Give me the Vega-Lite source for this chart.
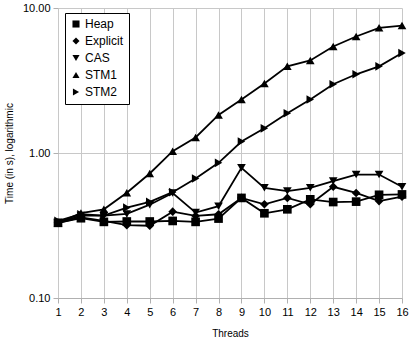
{
  "$schema": "https://vega.github.io/schema/vega-lite/v6.json",
  "width": 344,
  "height": 290,
  "autosize": {"type": "none"},
  "padding": {"left": 58, "top": 8, "right": 7, "bottom": 49},
  "background": "white",
  "config": {
    "font": "Liberation Sans",
    "view": {"stroke": null},
    "axis": {"gridColor": "#c8c8c8", "gridWidth": 1, "domainColor": "#b0b0b0", "tickColor": "#b0b0b0", "labelColor": "#000", "titleColor": "#000", "labelFont": "Liberation Sans", "titleFont": "Liberation Sans"}
  },
  "data": {"values": [
    {"threads": 1, "series": "Heap", "time": 0.33},
    {"threads": 2, "series": "Heap", "time": 0.355},
    {"threads": 3, "series": "Heap", "time": 0.335},
    {"threads": 4, "series": "Heap", "time": 0.337},
    {"threads": 5, "series": "Heap", "time": 0.337},
    {"threads": 6, "series": "Heap", "time": 0.34},
    {"threads": 7, "series": "Heap", "time": 0.335},
    {"threads": 8, "series": "Heap", "time": 0.353},
    {"threads": 9, "series": "Heap", "time": 0.49},
    {"threads": 10, "series": "Heap", "time": 0.384},
    {"threads": 11, "series": "Heap", "time": 0.409},
    {"threads": 12, "series": "Heap", "time": 0.479},
    {"threads": 13, "series": "Heap", "time": 0.459},
    {"threads": 14, "series": "Heap", "time": 0.462},
    {"threads": 15, "series": "Heap", "time": 0.515},
    {"threads": 16, "series": "Heap", "time": 0.518},
    {"threads": 1, "series": "Explicit", "time": 0.33},
    {"threads": 2, "series": "Explicit", "time": 0.36},
    {"threads": 3, "series": "Explicit", "time": 0.34},
    {"threads": 4, "series": "Explicit", "time": 0.318},
    {"threads": 5, "series": "Explicit", "time": 0.315},
    {"threads": 6, "series": "Explicit", "time": 0.394},
    {"threads": 7, "series": "Explicit", "time": 0.368},
    {"threads": 8, "series": "Explicit", "time": 0.378},
    {"threads": 9, "series": "Explicit", "time": 0.49},
    {"threads": 10, "series": "Explicit", "time": 0.443},
    {"threads": 11, "series": "Explicit", "time": 0.49},
    {"threads": 12, "series": "Explicit", "time": 0.443},
    {"threads": 13, "series": "Explicit", "time": 0.585},
    {"threads": 14, "series": "Explicit", "time": 0.53},
    {"threads": 15, "series": "Explicit", "time": 0.466},
    {"threads": 16, "series": "Explicit", "time": 0.5},
    {"threads": 1, "series": "CAS", "time": 0.33},
    {"threads": 2, "series": "CAS", "time": 0.37},
    {"threads": 3, "series": "CAS", "time": 0.37},
    {"threads": 4, "series": "CAS", "time": 0.38},
    {"threads": 5, "series": "CAS", "time": 0.44},
    {"threads": 6, "series": "CAS", "time": 0.53},
    {"threads": 7, "series": "CAS", "time": 0.388},
    {"threads": 8, "series": "CAS", "time": 0.43},
    {"threads": 9, "series": "CAS", "time": 0.79},
    {"threads": 10, "series": "CAS", "time": 0.575},
    {"threads": 11, "series": "CAS", "time": 0.546},
    {"threads": 12, "series": "CAS", "time": 0.575},
    {"threads": 13, "series": "CAS", "time": 0.64},
    {"threads": 14, "series": "CAS", "time": 0.71},
    {"threads": 15, "series": "CAS", "time": 0.71},
    {"threads": 16, "series": "CAS", "time": 0.585},
    {"threads": 1, "series": "STM1", "time": 0.33},
    {"threads": 2, "series": "STM1", "time": 0.385},
    {"threads": 3, "series": "STM1", "time": 0.409},
    {"threads": 4, "series": "STM1", "time": 0.532},
    {"threads": 5, "series": "STM1", "time": 0.722},
    {"threads": 6, "series": "STM1", "time": 1.03},
    {"threads": 7, "series": "STM1", "time": 1.28},
    {"threads": 8, "series": "STM1", "time": 1.83},
    {"threads": 9, "series": "STM1", "time": 2.34},
    {"threads": 10, "series": "STM1", "time": 3.02},
    {"threads": 11, "series": "STM1", "time": 3.96},
    {"threads": 12, "series": "STM1", "time": 4.35},
    {"threads": 13, "series": "STM1", "time": 5.43},
    {"threads": 14, "series": "STM1", "time": 6.36},
    {"threads": 15, "series": "STM1", "time": 7.3},
    {"threads": 16, "series": "STM1", "time": 7.57},
    {"threads": 1, "series": "STM2", "time": 0.34},
    {"threads": 2, "series": "STM2", "time": 0.378},
    {"threads": 3, "series": "STM2", "time": 0.37},
    {"threads": 4, "series": "STM2", "time": 0.42},
    {"threads": 5, "series": "STM2", "time": 0.46},
    {"threads": 6, "series": "STM2", "time": 0.537},
    {"threads": 7, "series": "STM2", "time": 0.667},
    {"threads": 8, "series": "STM2", "time": 0.855},
    {"threads": 9, "series": "STM2", "time": 1.2},
    {"threads": 10, "series": "STM2", "time": 1.48},
    {"threads": 11, "series": "STM2", "time": 1.88},
    {"threads": 12, "series": "STM2", "time": 2.34},
    {"threads": 13, "series": "STM2", "time": 2.98},
    {"threads": 14, "series": "STM2", "time": 3.49},
    {"threads": 15, "series": "STM2", "time": 3.96},
    {"threads": 16, "series": "STM2", "time": 4.89}
  ]},
  "encoding": {
    "x": {
      "field": "threads", "type": "quantitative",
      "scale": {"domain": [1, 16], "nice": false, "zero": false},
      "axis": {"values": [1,2,3,4,5,6,7,8,9,10,11,12,13,14,15,16], "format": "d", "title": "Threads", "labelFontSize": 11, "titleFontSize": 10, "titleFontWeight": "normal", "labelPadding": 3, "titlePadding": 11, "tickSize": 5, "labelFlush": false}
    },
    "y": {
      "field": "time", "type": "quantitative",
      "scale": {"type": "log", "domain": [0.1, 10], "nice": false},
      "axis": {"values": [0.1, 1, 10], "format": ".2f", "title": "Time (in s), logarithmic", "labelFontSize": 11, "titleFontSize": 10, "titleFontWeight": "normal", "labelPadding": 3, "titlePadding": 8, "tickSize": 5, "domain": false, "labelFlush": false}
    }
  },
  "layer": [
    {
      "mark": {"type": "line", "color": "black", "strokeWidth": 1.8},
      "encoding": {"detail": {"field": "series"}}
    },
    {
      "mark": {"type": "point", "filled": true, "opacity": 1, "color": "black", "size": 75},
      "encoding": {
        "shape": {
          "field": "series", "type": "nominal",
          "sort": ["Heap", "Explicit", "CAS", "STM1", "STM2"],
          "scale": {"domain": ["Heap", "Explicit", "CAS", "STM1", "STM2"], "range": ["square", "diamond", "triangle-down", "triangle-up", "triangle-right"]},
          "legend": {
            "title": null, "orient": "none", "legendX": 7, "legendY": 5,
            "strokeColor": "black", "fillColor": "white", "padding": 5,
            "labelFontSize": 12, "labelFont": "Liberation Sans", "labelColor": "black",
            "symbolFillColor": "black", "symbolStrokeColor": "black", "symbolSize": 50,
            "rowPadding": 3, "labelOffset": 3, "symbolOffset": 0
          }
        }
      }
    }
  ]
}
